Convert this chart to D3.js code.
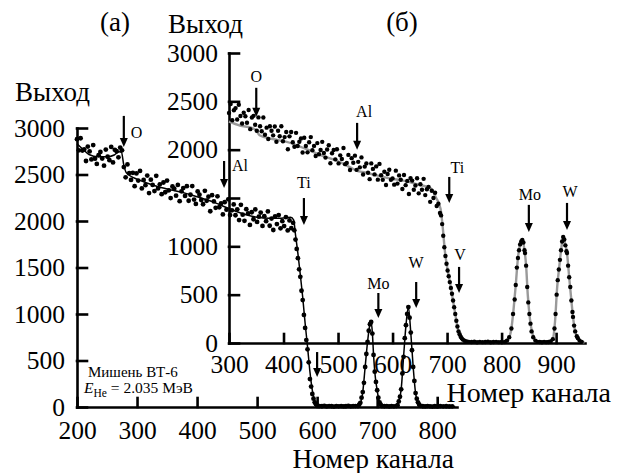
<!DOCTYPE html>
<html>
<head>
<meta charset="utf-8">
<script src="https://cdn.jsdelivr.net/npm/d3@7"></script>
<style>
body { margin: 0; background: #fff; }
svg text { font-family: "Liberation Serif", "Times New Roman", serif; fill: #000; }
</style>
</head>
<body>
<div id="chart"></div>
<script>
// ---- panel (а): spectrum, plateau part sampled every 3 channels
var plateauAStart = 200, plateauAStep = 3;
var plateauA = [2880,2760,2890,2757,2770,2645,2800,2748,2662,2816,
  2670,2614,2708,2742,2672,2595,2768,2691,2654,2797,
  2630,2765,2750,2685,2790,2760,2580,2470,2608,2515,
  2442,2518,2375,2512,2435,2538,2350,2442,2385,2488,
  2300,2444,2388,2322,2486,2350,2394,2288,2414,2309,
  2435,2330,2246,2371,2347,2272,2388,2213,2319,2354,
  2270,2374,2218,2282,2376,2230,2184,2318,2282,2226,
  2180,2324,2218,2262,2105,2278,2210,2142,2265,2148,
  2190,2071,2202,2122,2233,2064,2115,2178,2062,2126,
  2010,2174,2068,2002,2127,2083,1958,2094,2019,2125,
  1990,2046,2091,1947,2052,1998,2103,1949,2026,1903,
  2050,1967,2064,1921,1998,1945,2042,1899,2006,1923,
  1980];
// Ti edge, Mo and W peaks
var tailACh = [562,564,566,568,570,572,574,576,578,580,582,584,586,588,590,592,594,596,598,600,
  604,608,612,616,620,624,628,632,636,640,644,648,652,656,660,664,668,
  670,672,674,676,678,680,682,684,686,688,690,692,694,696,698,700,702,704,706,708,
  712,716,720,724,728,732,
  734,736,738,740,742,744,746,748,750,752,754,756,758,760,762,764,766,768,770,772,
  776,780,784,788,792,796,800,805,810,815,820,825];
var tailAVal = [1900,1800,1700,1600,1480,1400,1250,1150,990,850,720,620,480,300,220,140,90,50,30,15,
  10,8,12,6,10,8,5,9,7,10,6,8,12,7,9,10,10,
  25,45,100,160,260,430,570,700,820,890,914,790,560,380,270,180,100,50,25,10,
  8,10,6,9,7,10,
  20,60,110,190,360,540,740,880,1000,1075,960,800,610,430,280,150,90,50,25,12,
  8,6,10,7,5,8,6,9,7,8,6,7];
// fitted curve (а)
var fitACh = [200,210,220,235,250,262,270,274,278,282,290,300,320,340,360,380,400,420,440,460,
  480,500,520,540,556,561,564,568,572,576,580,584,588,592,596,600,606,640,668,672,
  676,680,684,688,690,692,694,696,700,704,708,714,732,736,740,744,748,752,756,760,
  764,768,772,780,830];
var fitAVal = [2830,2770,2715,2690,2690,2710,2745,2740,2600,2520,2480,2450,2400,2360,2330,2300,2260,2220,2170,2115,
  2070,2040,2030,2030,2040,2010,1850,1650,1420,1180,900,650,380,180,70,20,5,5,8,40,
  160,430,700,890,914,800,560,380,180,50,12,5,8,60,190,540,880,1075,800,430,
  150,50,15,5,5];

// ---- panel (б)
var plateauBStart = 300, plateauBStep = 3;
var plateauB = [2380,2472,2305,2408,2430,2312,2465,2348,2270,2382,
  2345,2278,2410,2212,2332,2350,2258,2196,2334,2242,
  2190,2332,2155,2228,2110,2242,2195,2148,2240,2082,
  2195,2139,2243,2087,2130,2182,2005,2138,2182,2076,
  2030,2174,2038,2082,2116,1970,2124,2038,1972,2076,
  2130,1995,2039,1934,2068,1952,1997,2081,1965,1918,
  2002,2046,1860,1963,1997,1900,2004,1858,1941,1904,
  2017,1850,1863,1946,1789,1912,1865,1938,1791,1874,
  1817,1920,1743,1825,1858,1761,1695,1858,1801,1744,
  1827,1690,1853,1735,1688,1771,1634,1748,1793,1688,
  1703,1638,1783,1649,1734,1689,1593,1738,1633,1677,
  1542,1706,1680,1585,1629,1704,1548,1642,1585,1698,
  1530,1590,1615,1460,1575,1500,1555,1418,1440,1345];
var tailBCh = [689,691,693,695,697,699,701,703,705,707,709,711,713,715,717,719,721,723,725,727,729,732,736,740,
  745,750,755,760,765,770,775,780,785,790,795,800,
  806,810,814,818,821,824,826,828,830,832,834,836,838,840,842,843,845,847,849,851,853,855,858,862,866,
  870,874,878,882,886,
  890,894,897,899,901,903,905,907,909,911,913,915,917,919,920,922,924,926,928,930,931,933,935,938,940,943,947];
var tailBVal = [1320,1230,1110,990,900,820,750,690,630,570,510,440,370,300,230,170,120,90,65,48,35,24,16,12,
  10,14,8,12,9,11,13,8,10,12,9,11,
  10,25,60,150,300,450,600,780,880,960,1020,1050,1066,1040,960,930,800,580,420,300,200,120,60,25,12,
  10,8,12,9,11,
  15,40,150,300,500,650,760,860,960,1050,1097,1070,1010,950,930,800,680,580,440,320,270,180,120,70,50,25,12];
var fitBCh = [300,320,344,350,356,380,406,440,467,500,528,535,545,560,590,620,650,670,680,688,
  692,696,700,705,710,715,720,725,730,740,800,808,814,818,822,826,830,834,838,842,
  845,848,852,856,860,866,880,888,894,898,902,906,910,913,916,920,924,928,931,935,
  940,946,952];
var fitBVal = [2290,2250,2220,2200,2150,2110,2080,2010,1946,1880,1800,1780,1770,1750,1708,1680,1635,1600,1500,1390,
  1200,950,790,640,470,300,140,65,30,12,8,25,60,150,350,600,880,1020,1066,960,
  800,500,250,110,45,12,8,15,40,220,580,800,1000,1097,1040,930,680,440,270,120,
  50,15,5];

// element markers: channel, arrow top, arrow tip (counts)
var markElA = ["O", "Al", "Ti", "", "Mo", "W"];
var markChA = [278, 445, 578, 600, 702, 765];
var markTopA = [3130, 2645, 2247, 591, 1226, 1344];
var markTipA = [2796, 2355, 1957, 323, 957, 1065];
var markElB = ["O", "Al", "Ti", "V", "Mo", "W"];
var markChB = [350, 535, 704, 722, 850, 920];
var markTopB = [2640, 2277, 1718, 787, 1429, 1449];
var markTipB = [2340, 1998, 1449, 518, 1149, 1170];

var ticksXA = [200, 300, 400, 500, 600, 700, 800];
var ticksXB = [300, 400, 500, 600, 700, 800, 900];
var ticksY = [0, 500, 1000, 1500, 2000, 2500, 3000];

var svg = d3.select("#chart").append("svg")
  .attr("width", 624).attr("height", 473);

var xA = d3.scaleLinear().domain([200, 833]).range([77, 457]);
var yA = d3.scaleLinear().domain([0, 3000]).range([407, 128]);
var xB = d3.scaleLinear().domain([300, 953]).range([229, 585]);
var yB = d3.scaleLinear().domain([0, 3000]).range([343, 53]);

function toPoints(start, step, vals, ch2, val2) {
  var pts = vals.map(function (v, i) { return { ch: start + i * step, v: v }; });
  return pts.concat(ch2.map(function (c, i) { return { ch: c, v: val2[i] }; }));
}
var pointsA = toPoints(plateauAStart, plateauAStep, plateauA, tailACh, tailAVal);
var pointsB = toPoints(plateauBStart, plateauBStep, plateauB, tailBCh, tailBVal);
var fitA = fitACh.map(function (c, i) { return { ch: c, v: fitAVal[i] }; });
var fitB = fitBCh.map(function (c, i) { return { ch: c, v: fitBVal[i] }; });

function drawAxes(x, y, xticks, padX, padY, hideY) {
  var gx = svg.append("g")
    .attr("transform", "translate(0," + y.range()[0] + ")")
    .call(d3.axisBottom(x).tickValues(xticks).tickSize(-9).tickSizeOuter(0)
      .tickPadding(padX).tickFormat(d3.format("d")));
  var gy = svg.append("g")
    .attr("transform", "translate(" + x.range()[0] + ",0)")
    .call(d3.axisLeft(y).tickValues(ticksY).tickSize(-10).tickSizeOuter(0)
      .tickPadding(padY).tickFormat(function (d) { return d === hideY ? "" : d; }));
  [gx, gy].forEach(function (g) {
    g.attr("font-size", 25.5).attr("font-family", "Liberation Serif, Times New Roman, serif");
    g.selectAll("path, line").attr("stroke", "#000").attr("stroke-width", 2.6)
      .attr("stroke-linecap", "square");
    g.selectAll("text").attr("fill", "#000");
  });
}

function drawCurve(data, x, y, color, width) {
  svg.append("path")
    .datum(data)
    .attr("fill", "none")
    .attr("stroke", color)
    .attr("stroke-width", width)
    .attr("d", d3.line()
      .x(function (d) { return x(d.ch); })
      .y(function (d) { return y(d.v); })
      .curve(d3.curveMonotoneX));
}

function drawDots(data, x, y, r) {
  svg.append("g").selectAll("circle")
    .data(data)
    .join("circle")
    .attr("cx", function (d) { return x(d.ch); })
    .attr("cy", function (d) { return y(d.v); })
    .attr("r", r)
    .attr("fill", "#000");
}

// label offsets (px) relative to arrow top: [dx, dy, anchor]
var labelPosA = [[7, 22, "start"], [8, 10, "start"], [0, -10, "middle"], [0, 0, "middle"], [0, -4, "middle"], [0, -14, "middle"]];
var labelPosB = [[0, -6, "middle"], [7, -6, "middle"], [8, -4, "middle"], [1, -7, "middle"], [1, -5, "middle"], [3, -6, "middle"]];

function drawMarks(els, chs, tops, tips, x, y, pos) {
  els.forEach(function (el, i) {
    var px = x(chs[i]), y1 = y(tops[i]), y2 = y(tips[i]);
    svg.append("line")
      .attr("x1", px).attr("x2", px).attr("y1", y1).attr("y2", y2 - 7)
      .attr("stroke", "#000").attr("stroke-width", 2.2);
    svg.append("path")
      .attr("d", "M" + (px - 4) + "," + (y2 - 9) + "L" + (px + 4) + "," + (y2 - 9) + "L" + px + "," + y2 + "Z")
      .attr("fill", "#000");
    if (el) {
      svg.append("text")
        .attr("x", px + pos[i][0]).attr("y", y1 + pos[i][1])
        .attr("text-anchor", pos[i][2])
        .attr("font-size", 16)
        .text(el);
    }
  });
}

// panel (а)
drawAxes(xA, yA, ticksXA, 14, 12, null);
drawCurve(fitA, xA, yA, "#000", 1.5);
drawDots(pointsA, xA, yA, 2.4);

// panel (б)
drawAxes(xB, yB, ticksXB, 12, 11, 1500);
drawCurve(fitB, xB, yB, "#9a9a9a", 2.4);
drawDots(pointsB, xB, yB, 2.2);

drawMarks(markElA, markChA, markTopA, markTipA, xA, yA, labelPosA);
drawMarks(markElB, markChB, markTopB, markTipB, xB, yB, labelPosB);

// titles and axis names
svg.append("text").attr("x", 115).attr("y", 31).attr("text-anchor", "middle")
  .attr("font-size", 27).text("(а)");
svg.append("text").attr("x", 402).attr("y", 31).attr("text-anchor", "middle")
  .attr("font-size", 27).text("(б)");
svg.append("text").attr("x", 168).attr("y", 33).attr("font-size", 27).text("Выход");
svg.append("text").attr("x", 15).attr("y", 101).attr("font-size", 27).text("Выход");
svg.append("text").attr("x", 454).attr("y", 468).attr("text-anchor", "end")
  .attr("font-size", 27.5).text("Номер канала");
svg.append("text").attr("x", 611).attr("y", 402).attr("text-anchor", "end")
  .attr("font-size", 28).text("Номер канала");

// target note
svg.append("text").attr("x", 88).attr("y", 377).attr("font-size", 15).text("Мишень ВТ-6");
var note = svg.append("text").attr("x", 84).attr("y", 393).attr("font-size", 15.5);
note.append("tspan").attr("font-style", "italic").text("E");
note.append("tspan").attr("font-size", 11.5).attr("dy", 4).text("He");
note.append("tspan").attr("dy", -4).text(" = 2.035 МэВ");
</script>
</body>
</html>
